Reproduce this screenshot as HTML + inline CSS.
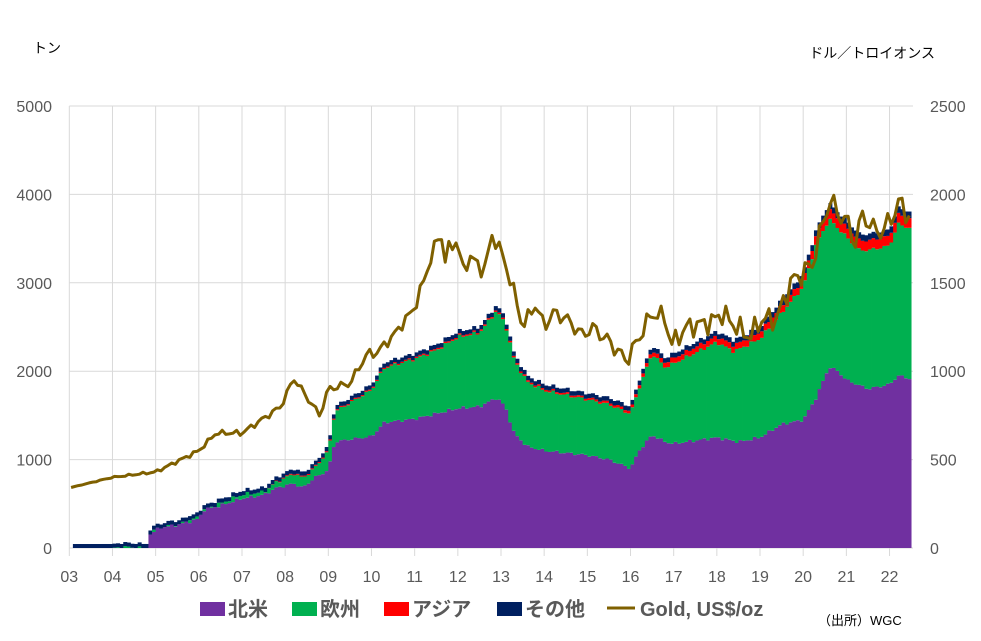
<!DOCTYPE html>
<html><head><meta charset="utf-8"><style>
body{margin:0;background:#fff;width:981px;height:641px;overflow:hidden;font-family:"Liberation Sans","Noto Sans CJK JP",sans-serif}
svg{display:block}
</style></head><body>
<svg id="s" width="981" height="641" xmlns="http://www.w3.org/2000/svg" font-family="Liberation Sans, Noto Sans CJK JP, sans-serif"></svg>
<script>
const X0=69.3,YW=43.17,Y0=548,K=88.4/1000;
const s=document.getElementById('s');let h='';
function interp(p,t){if(t<=p[0][0])return p[0][1];for(let i=1;i<p.length;i++){if(t<=p[i][0]){const a=p[i-1],b=p[i];return a[1]+(b[1]-a[1])*(t-a[0])/(b[0]-a[0]);}}return p[p.length-1][1];}
const NA=[[0,0],[1.8,0],[1.85,150],[2.1,230],[2.5,260],[3.0,330],[3.1,430],[3.5,480],[4,560],[4.5,600],[4.8,680],[5.2,730],[5.4,680],[5.7,800],[6.0,880],[6.15,1200],[6.5,1230],[7,1260],[7.3,1420],[8,1460],[8.5,1520],[9,1580],[9.5,1600],[9.9,1700],[10.1,1600],[10.3,1300],[10.6,1150],[11,1100],[12,1050],[12.5,1000],[13.0,900],[13.2,1100],[13.5,1280],[13.8,1200],[14,1180],[15,1250],[15.5,1200],[16,1250],[16.5,1400],[17,1450],[17.3,1700],[17.6,2050],[17.8,2000],[18,1900],[18.5,1800],[19,1850],[19.2,1950],[19.6,1900]];
const TOT=[[0.1,10],[0.9,20],[1.2,60],[1.8,40],[1.85,200],[2.1,270],[2.5,300],[3.0,400],[3.1,470],[3.5,550],[4,650],[4.5,680],[4.8,800],[5.2,900],[5.4,850],[5.6,920],[6.0,1150],[6.15,1600],[6.5,1700],[7,1850],[7.3,2100],[8,2200],[8.5,2300],[9,2450],[9.5,2500],[9.9,2750],[10.1,2600],[10.3,2200],[10.6,1950],[11,1850],[12,1750],[12.5,1700],[13.0,1600],[13.2,1900],[13.5,2300],[13.8,2150],[14,2200],[15,2450],[15.4,2350],[16,2500],[16.5,2800],[17,3100],[17.3,3600],[17.6,3900],[17.8,3800],[18,3700],[18.3,3550],[18.5,3550],[19,3600],[19.2,3850],[19.6,3780]];
const RED=[[0,0],[4.5,0],[5,10],[12,20],[13,30],[14,60],[17,80],[17.5,110],[19.6,110]];
const BLU=[[0,45],[12,50],[15,55],[17,65],[19.6,75]];
const GOLD=[[0,340],[1,400],[2,430],[3,550],[3.4,650],[4,650],[4.9,800],[5.2,960],[5.8,750],[6,900],[6.5,930],[6.9,1100],[7.1,1100],[7.5,1200],[8,1360],[8.6,1800],[8.7,1620],[8.8,1700],[9,1740],[9.1,1560],[9.3,1650],[9.6,1560],[9.8,1770],[10,1680],[10.3,1450],[10.5,1250],[10.8,1380],[11,1250],[11.2,1330],[11.5,1300],[11.9,1200],[12.1,1250],[12.5,1170],[12.9,1060],[13,1100],[13.5,1330],[13.8,1300],[13.95,1150],[14.3,1250],[14.9,1280],[15.1,1330],[15.6,1220],[15.8,1200],[16,1290],[16.4,1300],[16.7,1500],[17,1560],[17.2,1600],[17.6,1970],[17.8,1900],[18,1850],[18.2,1730],[18.4,1900],[18.6,1800],[18.9,1800],[19.2,1950],[19.6,1850]];
function noise(i,a){return Math.sin(i*1.7)*a+Math.sin(i*3.1)*a*0.6;}
for(let v=0;v<=5000;v+=1000){const y=Y0-v*K;h+=`<line x1="${X0}" x2="913" y1="${y}" y2="${y}" stroke="#d9d9d9"/>`;h+=`<text x="52" y="${y+6}" text-anchor="end" font-size="16" fill="#595959">${v}</text>`;h+=`<text x="930" y="${y+6}" font-size="16" fill="#595959">${v/2}</text>`;}
for(let i=0;i<20;i++){const x=X0+i*YW;h+=`<line x1="${x}" x2="${x}" y1="${Y0-5000*K}" y2="${Y0+8}" stroke="#d9d9d9"/>`;h+=`<text x="${x}" y="582" text-anchor="middle" font-size="16" fill="#595959">${String(i+3).padStart(2,'0')}</text>`;}
const N=234,bw=YW/12;
for(let i=0;i<N;i++){const t=(i+0.5)/12;const x=X0+i*bw;
 let tot=interp(TOT,t);if(t<0.1)continue;tot+=noise(i,15);let na=interp(NA,t);if(na>0)na+=noise(i+3,12);na=Math.min(na,tot);
 const r=interp(RED,t),b=interp(BLU,t);const eu=Math.max(tot-na-r-b,0);
 let y=Y0;const seg=(v,c)=>{if(v<=0)return;const hh=v*K;h+=`<rect x="${x.toFixed(2)}" y="${(y-hh).toFixed(2)}" width="${(bw+0.4).toFixed(2)}" height="${hh.toFixed(2)}" fill="${c}"/>`;y-=hh;};
 seg(na,'#7030a0');seg(eu,'#00b050');seg(r,'#ff0000');seg(b,'#002060');}
let pts=[];for(let i=0;i<N;i++){const t=(i+0.5)/12;let g=interp(GOLD,t)+noise(i+7,t*3);pts.push(`${(X0+(i+0.5)*bw).toFixed(1)},${(Y0-g*2*K).toFixed(1)}`);}
h+=`<polyline points="${pts.join(' ')}" fill="none" stroke="#7f6000" stroke-width="3" stroke-linejoin="round"/>`;
h+=`<text x="33" y="53" font-size="14" fill="#000">トン</text>`;
h+=`<text x="935" y="58" text-anchor="end" font-size="14" fill="#000">ドル／トロイオンス</text>`;
const L=[[200,'#7030a0','北米'],[292,'#00b050','欧州'],[384,'#ff0000','アジア'],[497,'#002060','その他']];
for(const [x,c,tx] of L){h+=`<rect x="${x}" y="602" width="25" height="14" fill="${c}"/><text x="${x+28}" y="616" font-size="20" font-weight="bold" fill="#595959">${tx}</text>`;}
h+=`<line x1="607" x2="635" y1="608" y2="608" stroke="#7f6000" stroke-width="3"/><text x="640" y="616" font-size="20" font-weight="bold" fill="#595959">Gold, US$/oz</text>`;
h+=`<text x="818" y="625" font-size="13" fill="#000">（出所）WGC</text>`;
s.innerHTML=h;
</script>
</body></html>
